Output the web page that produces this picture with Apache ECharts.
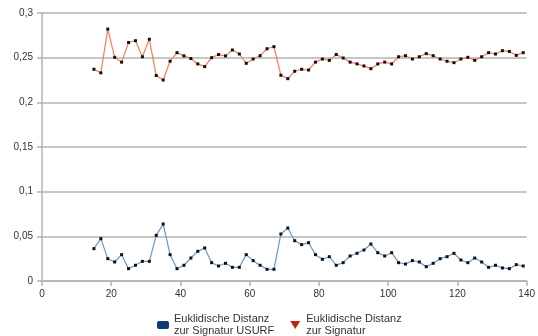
<!DOCTYPE html>
<html><head><meta charset="utf-8">
<script src="https://cdn.jsdelivr.net/npm/echarts@6/dist/echarts.min.js"></script>
<style>html,body{margin:0;padding:0;background:#fff}#c{width:538px;height:336px}</style>
</head><body><div id="c"></div>
<script>
const xValues = [15,17,19,21,23,25,27,29,31,33,35,37,39,41,43,45,47,49,51,53,55,57,59,61,63,65,67,69,71,73,75,77,79,81,83,85,87,89,91,93,95,97,99,101,103,105,107,109,111,113,115,117,119,121,123,125,127,129,131,133,135,137,139];
const usurf = [0.0362,0.0474,0.025,0.0213,0.0295,0.0138,0.0176,0.022,0.022,0.0511,0.0638,0.0295,0.0138,0.0176,0.0257,0.0332,0.037,0.0205,0.0168,0.0198,0.0153,0.0153,0.0295,0.0228,0.0176,0.0131,0.0131,0.0526,0.0593,0.0451,0.0407,0.0429,0.0295,0.0243,0.0272,0.0176,0.0205,0.028,0.031,0.0347,0.0414,0.0317,0.028,0.0317,0.0205,0.019,0.0228,0.0213,0.016,0.0198,0.025,0.0272,0.031,0.0235,0.0205,0.0257,0.0213,0.0153,0.0176,0.0146,0.0138,0.0183,0.0168];
const signatur = [0.237,0.233,0.282,0.2504,0.245,0.267,0.269,0.251,0.2706,0.230,0.225,0.246,0.2556,0.252,0.249,0.243,0.240,0.250,0.2535,0.252,0.2586,0.2541,0.2437,0.2485,0.2522,0.260,0.2623,0.2303,0.2265,0.2348,0.237,0.2362,0.245,0.2485,0.247,0.2535,0.2496,0.245,0.243,0.2407,0.2377,0.243,0.245,0.243,0.251,0.2522,0.2485,0.251,0.2545,0.2522,0.2485,0.246,0.2444,0.2485,0.2504,0.247,0.251,0.2556,0.2541,0.2578,0.257,0.2526,0.2556];
const seriesNames = ['Euklidische Distanz\nzur Signatur USURF','Euklidische Distanz\nzur Signatur'];

const chart = echarts.init(document.getElementById('c'));
const axisGray = '#b3b3b3';
const lbl = {color:'#333', fontSize:10, fontFamily:'Liberation Sans, Arial, sans-serif'};
chart.setOption({
  animation:false,
  grid:{left:42,right:8,top:13,bottom:55,containLabel:false},
  xAxis:{type:'value',min:0,max:140,interval:20,
    axisLine:{lineStyle:{color:axisGray,width:1.5}},
    axisTick:{show:true,length:5,lineStyle:{color:axisGray,width:1.5}},
    splitLine:{show:false},
    axisLabel:Object.assign({margin:8},lbl)},
  yAxis:{type:'value',min:0,max:0.3,interval:0.05,
    axisLine:{show:true,lineStyle:{color:axisGray,width:1.5}},
    axisTick:{show:true,length:5,lineStyle:{color:axisGray,width:1.5}},
    splitLine:{show:true,lineStyle:{color:axisGray,width:1.5}},
    axisLabel:Object.assign({margin:9,formatter:v=>String(+v.toFixed(2)).replace('.',',')},lbl)},
  legend:{bottom:-6,left:152,itemGap:16,itemWidth:12,itemHeight:8,
    textStyle:{color:'#333',fontSize:11,fontFamily:'Liberation Sans, Arial, sans-serif',lineHeight:12},
    data:[{name:seriesNames[0],icon:'roundRect',itemStyle:{color:'#0d3d6e'}},
          {name:seriesNames[1],icon:'path://M0,0L10,0L5,8Z',itemStyle:{color:'#c0250a'}}]},
  series:[
    {name:seriesNames[0],type:'line',data:xValues.map((x,i)=>[x,usurf[i]]),
     lineStyle:{color:'#6a97c9',width:1.2},symbol:'rect',symbolSize:3,
     itemStyle:{color:'#111'},color:'#6a97c9'},
    {name:seriesNames[1],type:'line',data:xValues.map((x,i)=>[x,signatur[i]]),
     lineStyle:{color:'#ff7a57',width:1.2},symbol:'rect',symbolSize:3,
     itemStyle:{color:'#111'},color:'#ff7a57'}
  ]
});
</script></body></html>
